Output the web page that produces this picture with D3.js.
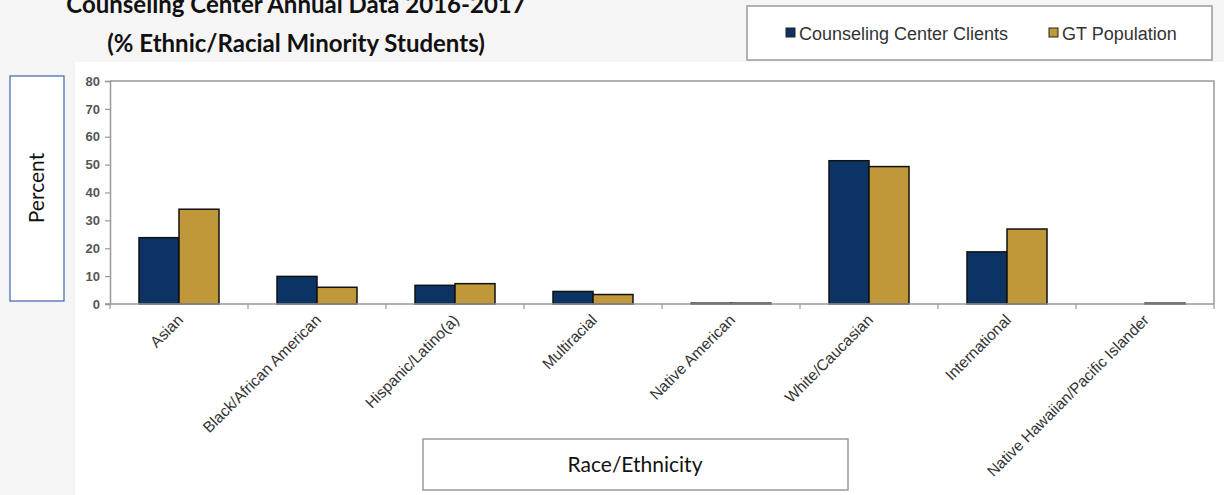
<!DOCTYPE html>
<html>
<head>
<meta charset="utf-8">
<script src="https://cdn.jsdelivr.net/npm/d3@7"></script>
<style>
  body { margin: 0; background: #f5f5f5; }
  svg { display: block; }
</style>
</head>
<body>
<div id="chart"></div>
<script>
// data
const categories = ["Asian", "Black/African American", "Hispanic/Latino(a)", "Multiracial",
  "Native American", "White/Caucasian", "International", "Native Hawaiian/Pacific Islander"];
const seriesNames = ["Counseling Center Clients", "GT Population"];
const clients = [23.8, 9.9, 6.7, 4.5, 0.3, 51.4, 18.7, 0];
const gtPopulation = [34.0, 6.0, 7.3, 3.4, 0.3, 49.3, 26.9, 0.3];
const yTicks = [0, 10, 20, 30, 40, 50, 60, 70, 80];
const colors = ["#0b3465", "#c0983a"];

const W = 1224, H = 495;
const plot = { left: 110, right: 1214, top: 81, bottom: 304 };

const svg = d3.select("#chart").append("svg").attr("width", W).attr("height", H);

// background + white chart panel
svg.append("rect").attr("width", W).attr("height", H).attr("fill", "#f5f5f5");
svg.append("rect").attr("x", 75).attr("y", 62).attr("width", W - 75).attr("height", H - 62)
  .attr("fill", "#fff");

// title (first line is cropped at the top of the picture, as in the original)
const title = svg.append("g").attr("font-family", "Lato, sans-serif").attr("font-weight", "bold")
  .attr("font-size", 24).attr("fill", "#111").attr("text-anchor", "middle");
title.append("text").attr("x", 296).attr("y", 13).text("Counseling Center Annual Data 2016-2017");
title.append("text").attr("x", 296).attr("y", 52).text("(% Ethnic/Racial Minority Students)");

// legend box
const legend = svg.append("g");
legend.append("rect").attr("x", 747).attr("y", 6).attr("width", 465).attr("height", 54)
  .attr("fill", "#fff").attr("stroke", "#9a9a9a").attr("stroke-width", 1.5);
const legendX = [786, 1049];
seriesNames.forEach((name, i) => {
  legend.append("rect").attr("x", legendX[i]).attr("y", 28).attr("width", 9).attr("height", 9)
    .attr("fill", colors[i]).attr("stroke", "#222").attr("stroke-width", 1);
  legend.append("text").attr("x", legendX[i] + 13).attr("y", 39.5)
    .attr("font-family", "Liberation Sans, Arial, sans-serif").attr("font-size", 18)
    .attr("fill", "#333").text(name);
});

// scales
const x = d3.scaleBand().domain(categories).range([plot.left, plot.right]).paddingInner(0).paddingOuter(0);
const inner = d3.scaleBand().domain(seriesNames).range([0, x.bandwidth()]).paddingInner(0).paddingOuter(0.725);
const y = d3.scaleLinear().domain([0, 80]).range([plot.bottom, plot.top]);

// plot frame (top and right)
svg.append("path")
  .attr("d", `M${plot.left},${plot.top}H${plot.right}V${plot.bottom}`)
  .attr("fill", "none").attr("stroke", "#999").attr("stroke-width", 1.5);

// bars
const rows = categories.map((c, i) => ({ cat: c, values: [clients[i], gtPopulation[i]] }));
const groups = svg.append("g").selectAll("g").data(rows).join("g")
  .attr("transform", d => `translate(${x(d.cat)},0)`);
groups.selectAll("rect")
  .data(d => d.values.map((v, i) => ({ v, s: seriesNames[i], i })).filter(d => d.v > 0))
  .join("rect")
  .attr("x", d => inner(d.s))
  .attr("width", inner.bandwidth())
  .attr("y", d => y(d.v))
  .attr("height", d => Math.max(0, y(0) - y(d.v)))
  .attr("fill", d => colors[d.i])
  .attr("stroke", "#111")
  .attr("stroke-width", 1.5);

// y axis
const yAxis = svg.append("g").attr("transform", `translate(${plot.left},0)`)
  .call(d3.axisLeft(y).tickValues(yTicks).tickSize(5).tickPadding(5));
yAxis.select(".domain").attr("stroke", "#999").attr("stroke-width", 1.5);
yAxis.selectAll(".tick line").attr("stroke", "#999").attr("stroke-width", 1.2);
yAxis.selectAll("text").attr("font-family", "Liberation Sans, Arial, sans-serif")
  .attr("font-size", 13).attr("font-weight", "bold").attr("fill", "#555");

// x axis: ticks at band edges
const edges = categories.map(c => x(c)).concat([plot.right]);
const xAxis = svg.append("g").attr("transform", `translate(0,${plot.bottom})`);
xAxis.append("line").attr("x1", plot.left - 5).attr("x2", plot.right)
  .attr("stroke", "#999").attr("stroke-width", 1.5);
xAxis.selectAll("line.tk").data(edges).join("line").attr("class", "tk")
  .attr("x1", d => d).attr("x2", d => d).attr("y1", 0).attr("y2", 5)
  .attr("stroke", "#999").attr("stroke-width", 1.2);
xAxis.selectAll("text").data(categories).join("text")
  .attr("transform", d => `translate(${x(d) + x.bandwidth() / 2 + 5},${17}) rotate(-45)`)
  .attr("text-anchor", "end")
  .attr("font-family", "Liberation Sans, Arial, sans-serif")
  .attr("font-size", 15.5).attr("fill", "#333")
  .text(d => d);

// y axis title box
svg.append("rect").attr("x", 10).attr("y", 76).attr("width", 54).attr("height", 225)
  .attr("fill", "#fff").attr("stroke", "#3f64ad").attr("stroke-width", 1.2);
svg.append("text").attr("transform", "translate(44,188) rotate(-90)")
  .attr("text-anchor", "middle").attr("font-family", "Lato, sans-serif")
  .attr("font-size", 21).attr("fill", "#111").text("Percent");

// x axis title box
svg.append("rect").attr("x", 423).attr("y", 439).attr("width", 425).attr("height", 51)
  .attr("fill", "#fff").attr("stroke", "#9a9a9a").attr("stroke-width", 1.5);
svg.append("text").attr("x", 635).attr("y", 472).attr("text-anchor", "middle")
  .attr("font-family", "Lato, sans-serif").attr("font-size", 21).attr("fill", "#111")
  .text("Race/Ethnicity");
</script>
</body>
</html>
